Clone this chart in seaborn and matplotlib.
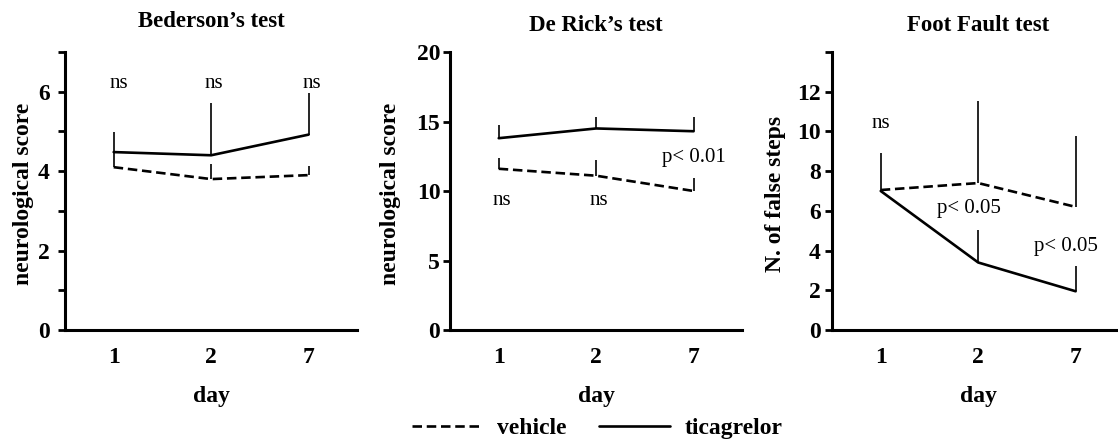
import matplotlib
matplotlib.use("Agg")
import numpy as np
import pandas as pd
import matplotlib.pyplot as plt
import seaborn as sns
from matplotlib.lines import Line2D

# ---------------------------------------------------------------------
# Données (moyenne + borne haute de la barre d'erreur)
# ---------------------------------------------------------------------
DAYS = ["1", "2", "7"]

bed_vehicle = [4.1, 3.8, 3.9]
bed_vehicle_top = [4.45, 4.17, 4.12]
bed_ticag = [4.48, 4.4, 4.92]
bed_ticag_top = [4.98, 5.72, 5.97]

der_vehicle = [11.6, 11.1, 10.0]
der_vehicle_top = [12.4, 12.2, 10.9]
der_ticag = [13.8, 14.5, 14.3]
der_ticag_top = [14.75, 15.3, 15.3]

ff_vehicle = [7.05, 7.4, 6.2]
ff_vehicle_top = [8.9, 11.55, 9.75]
ff_ticag = [7.0, 3.4, 1.95]
ff_ticag_top = [7.0, 5.06, 3.2]

TITLES = ["Bederson\u2019s test", "De Rick\u2019s test", "Foot Fault test"]
YLABELS = ["neurological score", "neurological score", "N. of false steps"]
YLIMS = [7, 20, 14]
YTICKS = [list(range(0, 8)), [0, 5, 10, 15, 20], list(range(0, 15, 2))]
YTICKLABELS = [["0", "", "2", "", "4", "", "6", ""],
               ["0", "5", "10", "15", "20"],
               ["0", "2", "4", "6", "8", "10", "12", ""]]

# annotations: (position de catégorie, valeur, texte)
ANNOT = [
    [(0.05, 6.2, "ns"), (1.03, 6.2, "ns"), (2.03, 6.2, "ns")],
    [(0.03, 9.35, "ns"), (1.03, 9.35, "ns"), (2.0, 12.4, "p< 0.01")],
    [(0.0, 10.4, "ns"), (0.9, 6.1, "p< 0.05"), (1.9, 4.2, "p< 0.05")],
]

sns.set_style("white")
plt.rcParams['font.family'] = ['Liberation Serif', 'DejaVu Serif']
plt.rcParams['text.color'] = 'black'
plt.rcParams['axes.labelcolor'] = 'black'
plt.rcParams['xtick.color'] = 'black'
plt.rcParams['ytick.color'] = 'black'

DASH = (3.6, 1.8)


def make_frame(vehicle, ticag):
    return pd.DataFrame({
        "day": DAYS * 2,
        "score": list(vehicle) + list(ticag),
        "group": ["vehicle"] * len(DAYS) + ["ticagrelor"] * len(DAYS),
    })


panels = [
    (bed_vehicle, bed_vehicle_top, bed_ticag, bed_ticag_top),
    (der_vehicle, der_vehicle_top, der_ticag, der_ticag_top),
    (ff_vehicle, ff_vehicle_top, ff_ticag, ff_ticag_top),
]

fig = plt.figure(figsize=(11.18, 4.40), dpi=100)
lefts = [0.0581, 0.4025, 0.7442]
ylabel_x = [-0.107, -0.168, -0.157]
ytick_pad = [6, 2, 3]
title_pad = [18, 15, 15]

for i, (veh, veh_top, tic, tic_top) in enumerate(panels):
    ax = fig.add_axes([lefts[i], 0.25, 0.2615, 0.6318])
    df = make_frame(veh, tic)

    # barres d'erreur (unilatérales, sans chapeau)
    ax.vlines(DAYS, veh, veh_top, color="black", linewidth=1.2)
    ax.vlines(DAYS, tic, tic_top, color="black", linewidth=1.2)

    sns.lineplot(data=df, x="day", y="score", style="group",
                 style_order=["vehicle", "ticagrelor"],
                 dashes={"vehicle": DASH, "ticagrelor": ""},
                 color="black", linewidth=1.9, legend=False, sort=False, ax=ax)

    ax.set_xlim(-0.5, 2.5)
    ax.set_ylim(0, YLIMS[i])
    ax.set_xticks(range(len(DAYS)))
    ax.set_xticklabels(DAYS, fontsize=17, fontweight='bold')
    ax.set_xticks([0.5, 1.5, 2.5], minor=True)
    ax.tick_params(axis='x', which='major', length=0, pad=12)
    ax.tick_params(axis='x', which='minor', length=5, width=2.0, direction='out')
    ax.set_yticks(YTICKS[i])
    ax.set_yticklabels(YTICKLABELS[i], fontsize=17, fontweight='bold')
    ax.tick_params(axis='y', length=5, width=2.0, direction='out', pad=ytick_pad[i])
    ax.tick_params(bottom=True, left=True)

    for side in ("top", "right"):
        ax.spines[side].set_visible(False)
    for side in ("left", "bottom"):
        ax.spines[side].set_color("black")
        ax.spines[side].set_linewidth(2.2)

    ax.set_xlabel("day", fontsize=17, fontweight='bold', labelpad=13)
    ax.set_ylabel(YLABELS[i], fontsize=17, fontweight='bold')
    ax.yaxis.set_label_coords(ylabel_x[i], 0.49)
    ax.set_title(TITLES[i], fontsize=16.5, fontweight='bold', pad=title_pad[i])

    for xpos, ypos, txt in ANNOT[i]:
        ax.text(xpos, ypos, txt, ha='center', va='center', fontsize=15)

handles = [
    Line2D([], [], color="black", linewidth=1.9, dashes=DASH),
    Line2D([], [], color="black", linewidth=1.9),
]
fig.legend(handles, ["vehicle", "ticagrelor"], loc='center', ncol=2,
           bbox_to_anchor=(0.534, 0.027), frameon=False,
           prop={'size': 17, 'weight': 'bold'},
           handlelength=3.0, handletextpad=0.6, columnspacing=1.4)

fig.savefig("out.png", dpi=100)
